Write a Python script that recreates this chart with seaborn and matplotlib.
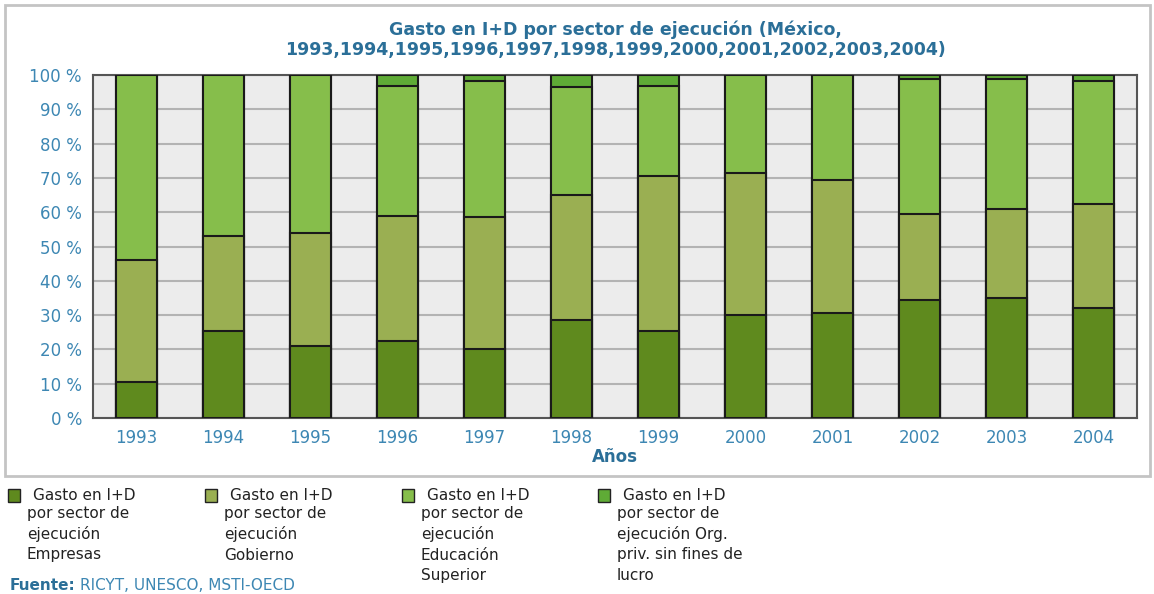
import numpy as np
import pandas as pd
import seaborn as sns
import matplotlib.pyplot as plt
from matplotlib.patches import Rectangle

# Data (percent of total)
years = ['1993', '1994', '1995', '1996', '1997', '1998',
         '1999', '2000', '2001', '2002', '2003', '2004']
empresas = [10.5, 25.5, 21.0, 22.5, 20.0, 28.5, 25.5, 30.0, 30.5, 34.5, 35.0, 32.0]
gobierno = [35.5, 27.5, 33.0, 36.5, 38.5, 36.5, 45.0, 41.3, 38.9, 25.0, 26.0, 30.4]
educacion = [54.0, 47.0, 46.0, 37.8, 39.8, 31.4, 26.4, 28.7, 30.6, 39.3, 37.8, 35.9]
org_priv = [0.0, 0.0, 0.0, 3.2, 1.7, 3.6, 3.1, 0.0, 0.0, 1.2, 1.2, 1.7]

series_names = [
    'Gasto en I+D\npor sector de\nejecución\nEmpresas',
    'Gasto en I+D\npor sector de\nejecución\nGobierno',
    'Gasto en I+D\npor sector de\nejecución\nEducación\nSuperior',
    'Gasto en I+D\npor sector de\nejecución Org.\npriv. sin fines de\nlucro',
]
colors = ['#5f8a1e', '#9aaf52', '#86be4b', '#5fab36']

title_color = '#2b6f98'
tick_color = '#3d87b3'

df = pd.DataFrame({'year': years, 'emp': empresas, 'gob': gobierno,
                   'edu': educacion, 'org': org_priv})
# cumulative heights for stacking (draw tallest first)
df['c1'] = df['emp']
df['c2'] = df['c1'] + df['gob']
df['c3'] = df['c2'] + df['edu']
df['c4'] = df['c3'] + df['org']

sns.set_style('white')
plt.rcParams['font.family'] = ['DejaVu Sans']

fig = plt.figure(figsize=(11.54, 5.94), dpi=100)
ax = fig.add_axes([93 / 1154, 1 - 418 / 594, (1137 - 93) / 1154, (418 - 75) / 594])
ax.set_facecolor('#ececec')

# outer light frame around the chart
fig.patches.append(Rectangle((5 / 1154, 1 - 476 / 594), 1145 / 1154, 471 / 594,
                             transform=fig.transFigure, fill=False,
                             edgecolor='#c4c4c4', linewidth=2, zorder=0))

for col, color in zip(['c4', 'c3', 'c2', 'c1'], colors[::-1]):
    sns.barplot(data=df, x='year', y=col, color=color, width=0.48,
                edgecolor='#1a1a1a', linewidth=1.5, saturation=1, ax=ax, zorder=3)

ax.set_ylim(0, 100)
ax.set_xlim(-0.5, 11.5)
ax.set_yticks(np.arange(0, 101, 10))
ax.set_yticklabels([f'{v} %' for v in range(0, 101, 10)])
ax.yaxis.grid(True, color='#b3b3b3', linewidth=1.5, zorder=0)
ax.set_axisbelow(True)
for s in ax.spines.values():
    s.set_color('#555555')
    s.set_linewidth(1.5)

ax.tick_params(axis='y', color='#999999', labelcolor=tick_color, labelsize=12,
               length=4, width=1, pad=4)
ax.tick_params(axis='x', labelcolor=tick_color, labelsize=12, length=0, pad=8)
ax.set_xlabel('Años', color=title_color, fontsize=12, fontweight='bold', labelpad=1)
ax.set_ylabel('')

fig.text(615 / 1154, 1 - 40 / 594,
         'Gasto en I+D por sector de ejecución (México,\n'
         '1993,1994,1995,1996,1997,1998,1999,2000,2001,2002,2003,2004)',
         ha='center', va='center', color=title_color, fontsize=12.5,
         fontweight='bold', linespacing=1.15)

# legend below the frame
leg_x = [8, 205, 402, 598]
for x0, name, color in zip(leg_x, series_names, colors):
    fig.patches.append(Rectangle((x0 / 1154, 1 - 502 / 594), 12 / 1154, 13 / 594,
                                 transform=fig.transFigure, facecolor=color,
                                 edgecolor='#222222', linewidth=1))
    lines = name.split('\n')
    fig.text((x0 + 25) / 1154, 1 - 495 / 594, lines[0], ha='left', va='center',
             fontsize=11, color='#222222')
    fig.text((x0 + 19) / 1154, 1 - 506 / 594, '\n'.join(lines[1:]), ha='left', va='top',
             fontsize=11, color='#222222', linespacing=1.42)

fig.text(10 / 1154, 1 - 585 / 594, 'Fuente:', ha='left', va='center',
         fontsize=11, fontweight='bold', color=title_color)
fig.text(80 / 1154, 1 - 585 / 594, 'RICYT, UNESCO, MSTI-OECD', ha='left', va='center',
         fontsize=11, color=tick_color)

fig.savefig('out.png', dpi=100)
